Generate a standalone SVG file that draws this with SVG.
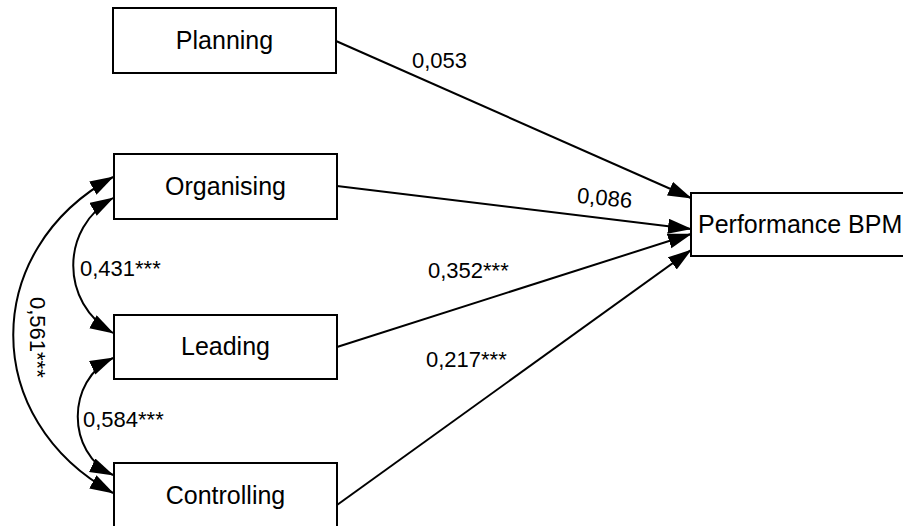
<svg xmlns="http://www.w3.org/2000/svg" width="903" height="526" viewBox="0 0 903 526">
<style>
.box{fill:#fff;stroke:#000;stroke-width:2}
.nt{font-family:"Liberation Sans",Arial,sans-serif;font-size:25px;fill:#000}
.mid{text-anchor:middle}
.lb{font-family:"Liberation Sans",Arial,sans-serif;font-size:22px;fill:#000}
.ln{fill:none;stroke:#000;stroke-width:2}
</style>
<defs>
<marker id="ah" markerUnits="userSpaceOnUse" markerWidth="26" markerHeight="16" refX="23" refY="7.5" orient="auto-start-reverse">
<path d="M0,0 L24,7.5 L0,15 z" fill="#000"/>
</marker>
</defs>
<rect width="903" height="526" fill="#fff"/>
<g id="connectors">
<line class="ln" x1="336" y1="41" x2="691" y2="198" marker-end="url(#ah)"/>
<line class="ln" x1="337" y1="186" x2="691" y2="229" marker-end="url(#ah)"/>
<line class="ln" x1="337" y1="347" x2="691" y2="234" marker-end="url(#ah)"/>
<line class="ln" x1="337" y1="505" x2="691" y2="250" marker-end="url(#ah)"/>
<path class="ln" d="M113,198 C60,228 60,303 113,333" marker-start="url(#ah)" marker-end="url(#ah)"/>
<path class="ln" d="M113,358 C66,380 66,453 113,475" marker-start="url(#ah)" marker-end="url(#ah)"/>
<path class="ln" d="M113,177 C-20,250 -20,420 113,493" marker-start="url(#ah)" marker-end="url(#ah)"/>
<text class="lb" x="412" y="68">0,053</text>
<text class="lb mid" x="604" y="205.5" transform="rotate(5.5 604 205.5)">0,086</text>
<text class="lb" x="428" y="278">0,352***</text>
<text class="lb" x="426" y="367">0,217***</text>
<text class="lb" x="80" y="276">0,431***</text>
<text class="lb" x="83" y="427">0,584***</text>
<text class="lb" x="30" y="297" transform="rotate(90 30 297)">0,561***</text>
</g>
<g id="planning">
<rect class="box" x="113" y="8" width="223" height="65"/>
<text class="nt mid" x="224.5" y="49">Planning</text>
</g>
<g id="organising">
<rect class="box" x="114" y="154" width="223" height="65"/>
<text class="nt mid" x="225.5" y="195">Organising</text>
</g>
<g id="leading">
<rect class="box" x="114" y="315" width="223" height="64"/>
<text class="nt mid" x="225.5" y="355">Leading</text>
</g>
<g id="controlling">
<rect class="box" x="114" y="463" width="223" height="66"/>
<text class="nt mid" x="225.5" y="504">Controlling</text>
</g>
<g id="performance">
<rect class="box" x="691" y="193" width="230" height="63"/>
<text class="nt" x="698" y="233">Performance BPM</text>
</g>
</svg>
